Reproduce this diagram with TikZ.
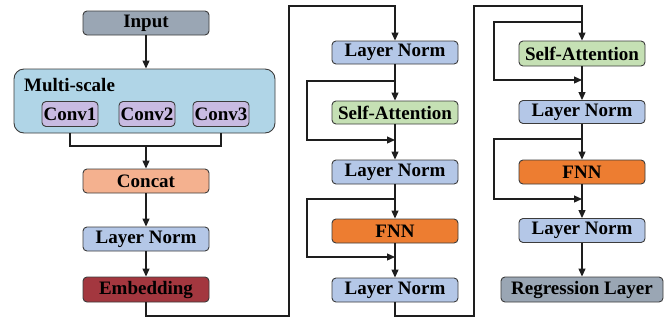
\documentclass[tikz,border=0pt]{standalone}
\usepackage{fontspec}
\setmainfont{Liberation Serif}
\usetikzlibrary{arrows.meta}
\definecolor{cin}{HTML}{9AA6B4}
\definecolor{cms}{HTML}{B0D5E7}
\definecolor{cconv}{HTML}{C8BBE2}
\definecolor{ccat}{HTML}{F4B18F}
\definecolor{cln}{HTML}{B4C7E7}
\definecolor{cemb}{HTML}{A3373F}
\definecolor{csa}{HTML}{C5E0B4}
\definecolor{cfnn}{HTML}{ED7D31}
\definecolor{cline}{HTML}{1E1E1E}
\definecolor{cedge}{HTML}{3C3C3C}
\begin{document}
\begin{tikzpicture}[x=1pt,y=-1pt,
  blk/.style={draw=cedge,line width=0.9pt,rounded corners=4pt,minimum width=126pt,minimum height=24pt,inner sep=0pt,
    font=\fontsize{19}{19}\selectfont\bfseries},
  convbox/.style={blk,fill=cconv,minimum width=56pt,minimum height=25pt},
  arr/.style={draw=cline,line width=1.2pt,-{Triangle[length=8pt,width=7pt]}},
  ln/.style={draw=cline,line width=1.2pt}]
\useasboundingbox (0,0) rectangle (672,322);
% column 1
\node[blk,fill=cin] (input) at (146,23) {Input};
\node[draw=cedge,line width=0.9pt,rounded corners=10pt,fill=cms,minimum width=261pt,minimum height=64pt,inner sep=0pt] (ms) at (144.5,101) {};
\node[anchor=west,inner sep=0pt,font=\fontsize{19}{19}\selectfont\bfseries] (mslabel) at (24,85) {Multi-scale};
\node[convbox] (conv1) at (70,114) {Conv1};
\node[convbox] (conv2) at (147,114) {Conv2};
\node[convbox] (conv3) at (221,114) {Conv3};
\node[blk,fill=ccat] (concat) at (146,181) {Concat};
\node[blk,fill=cln] (ln1) at (146,239) {Layer Norm};
\node[blk,fill=cemb,minimum height=25pt] (emb) at (146,289.5) {Embedding};
% column 2
\node[blk,fill=cln,minimum height=23pt] (ln2a) at (395,52.5) {Layer Norm};
\node[blk,fill=csa,minimum height=23pt] (sa1) at (395,112.5) {Self-Attention};
\node[blk,fill=cln] (ln2b) at (395,172) {Layer Norm};
\node[blk,fill=cfnn] (fnn1) at (395,231) {FNN};
\node[blk,fill=cln] (ln2c) at (395,290) {Layer Norm};
% column 3
\node[blk,fill=csa,minimum height=25pt] (sa2) at (582,53.5) {Self-Attention};
\node[blk,fill=cln,minimum height=23pt] (ln3a) at (582,112) {Layer Norm};
\node[blk,fill=cfnn] (fnn2) at (582,172) {FNN};
\node[blk,fill=cln] (ln3b) at (582,230.5) {Layer Norm};
\node[blk,fill=cin,minimum width=162pt,minimum height=25pt] (reg) at (582,289.5) {Regression Layer};
% coordinates
\coordinate (br) at (146,146);
\coordinate (t1) at (289,316);
\coordinate (t2) at (395,6);
\coordinate (t3) at (474,316);
\coordinate (t4) at (582,6);
\coordinate (b1) at (395,81);
\coordinate (j1) at (395,140);
\coordinate (b2) at (395,199);
\coordinate (j2) at (395,257);
\coordinate (b3) at (582,22);
\coordinate (j3) at (582,80);
\coordinate (b4) at (582,139);
\coordinate (j4) at (582,199);
% connectors column 1
\draw[arr] (input) -- (ms.north -| input);
\draw[ln] (ms.south -| conv1) |- (br) -| (ms.south -| conv3);
\draw[arr] (br) -- (concat.north);
\draw[arr] (concat) -- (ln1);
\draw[arr] (ln1) -- (emb);
\draw[arr] (emb.south) |- (t1) |- (t2) -- (ln2a.north);
% column 2
\draw[arr] (ln2a) -- (sa1);
\draw[arr] (b1) -- ++(-88,0) |- (j1);
\draw[arr] (sa1) -- (ln2b);
\draw[arr] (ln2b) -- (fnn1);
\draw[arr] (b2) -- ++(-88,0) |- (j2);
\draw[arr] (fnn1) -- (ln2c);
\draw[arr] (ln2c.south) |- (t3) |- (t4) -- (sa2.north);
% column 3
\draw[arr] (b3) -- ++(-88,0) |- (j3);
\draw[arr] (sa2) -- (ln3a);
\draw[arr] (ln3a) -- (fnn2);
\draw[arr] (b4) -- ++(-88,0) |- (j4);
\draw[arr] (fnn2) -- (ln3b);
\draw[arr] (ln3b) -- (reg);
\end{tikzpicture}
\end{document}
